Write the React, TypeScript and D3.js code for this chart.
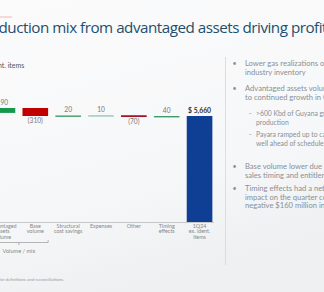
import React from "react";
import * as d3 from "d3";

const categories = [
  ["Advantaged", "assets", "volume"],
  ["Base", "volume"],
  ["Structural", "cost savings"],
  ["Expenses"],
  ["Other"],
  ["Timing", "effects"],
  ["1Q24", "ex. ident.", "items"],
];
const deltas = [190, -310, 20, 10, -70, 40];
const startValue = 5780;
const totalValue = 5660;
const valueLabels = ["190", "(310)", "20", "10", "(70)", "40", "$ 5,660"];
const barColors = ["#17974b", "#c00000", "#3f9c6b", "#9ac8b3", "#a31628", "#3f9c6b", "#0f3f94"];

const bullets = [
  { level: 0, lines: ["Lower gas realizations on high", "industry inventory"] },
  { level: 0, lines: ["Advantaged assets volume up due", "to continued growth in Guyana"] },
  { level: 1, lines: [">600 Kbd of Guyana gross", "production"] },
  { level: 1, lines: ["Payara ramped up to capacity", "well ahead of schedule"] },
  { level: 0, lines: ["Base volume lower due to", "sales timing and entitlements"] },
  { level: 0, lines: ["Timing effects had a net positive", "impact on the quarter compared to", "negative $160 million in 4Q23"] },
];
const bulletRows = [66, 91, 116, 137, 169, 191];

export default function App() {
  const W = 324;
  const H = 292;
  const x = d3
    .scaleBand<number>()
    .domain(d3.range(categories.length))
    .range([-12, 214])
    .paddingInner(0.22)
    .paddingOuter(0.05);
  const y = d3.scaleLinear().domain([1551, 5660]).range([222, 116]);

  const segs: { lo: number; hi: number }[] = [];
  let level = startValue;
  deltas.forEach((d) => {
    const next = level + d;
    segs.push({ lo: Math.min(level, next), hi: Math.max(level, next) });
    level = next;
  });
  segs.push({ lo: y.domain()[0], hi: totalValue });

  const bw = x.bandwidth();
  const xc = (i: number) => (x(i) as number) + bw / 2;
  const bracketL = x(0) as number;
  const bracketR = (x(1) as number) + bw;
  const bracketM = ((x(0) as number) + bw + (x(1) as number)) / 2;

  return (
    <svg
      width={W}
      height={H}
      style={{ position: "absolute", left: 0, top: 0, display: "block" }}
      fontFamily="Lato, 'Open Sans', sans-serif"
    >
      <defs>
        <linearGradient id="bg" x1="0" y1="0" x2="0.3" y2="1">
          <stop offset="0" stopColor="#fbfbfc" />
          <stop offset="0.7" stopColor="#f6f7f8" />
          <stop offset="1" stopColor="#eef0f2" />
        </linearGradient>
      </defs>
      <rect x={0} y={0} width={W} height={H} fill="url(#bg)" />
      <line x1={0} x2={12} y1={17} y2={17} stroke="#f2b9b0" strokeWidth={1} />
      <text x={-24.5} y={33} fontSize={15.2} fill="#1d4f6e" fontFamily="'Open Sans', sans-serif" letterSpacing={-0.48}>
        Production mix from advantaged assets driving profitability
      </text>

      <text x={-22} y={68} fontSize={7} fill="#555">
        ex. ident. items
      </text>

      {segs.map((s, i) => {
        const top = y(s.hi);
        const h = Math.max(y(s.lo) - y(s.hi), 1.4);
        return <rect key={i} x={x(i)} y={top} width={bw} height={h} fill={barColors[i]} />;
      })}

      {segs.map((s, i) => {
        const neg = i < deltas.length && deltas[i] < 0;
        const isTotal = i === segs.length - 1;
        const ty = neg ? y(s.lo) + 6.5 : y(s.hi) - 3;
        return (
          <text
            key={"v" + i}
            x={xc(i)}
            y={ty}
            textAnchor="middle"
            fontSize={isTotal ? 6.8 : 6.6}
            fontWeight={isTotal ? 700 : 400}
            fill={isTotal ? "#333" : "#777"}
          >
            {valueLabels[i]}
          </text>
        );
      })}

      <line x1={0} x2={214} y1={222.5} y2={222.5} stroke="#bbb" strokeWidth={0.8} />

      {categories.map((lines, i) => (
        <text key={"c" + i} x={xc(i)} y={227.5} textAnchor="middle" fontSize={5.4} fill="#888">
          {lines.map((l, j) => (
            <tspan key={j} x={xc(i)} dy={j === 0 ? 0 : 5.6}>
              {l}
            </tspan>
          ))}
        </text>
      ))}

      <path d={`M${bracketL},240 V242.5 H${bracketR} V240`} fill="none" stroke="#999" strokeWidth={0.7} />
      <line x1={bracketM} x2={bracketM} y1={242.5} y2={245} stroke="#999" strokeWidth={0.7} />
      <text x={bracketM} y={253} textAnchor="middle" fontSize={5.6} fill="#888">
        Volume / mix
      </text>

      <text x={-60} y={281} fontSize={4.4} fill="#999">
        See Supplemental information for definitions and reconciliations.
      </text>

      <line x1={225.5} x2={225.5} y1={57} y2={265} stroke="#d5d7da" strokeWidth={0.8} />

      {bullets.map((b, i) => {
        const yy = bulletRows[i];
        const tx = b.level === 0 ? 245 : 256;
        return (
          <g key={"b" + i}>
            <text x={b.level === 0 ? 232.5 : 249} y={yy} fontSize={7} fill="#8a8f96">
              {b.level === 0 ? "•" : "-"}
            </text>
            {b.lines.map((l, j) => (
              <text key={j} x={tx} y={yy + j * 8.6} fontSize={b.level === 0 ? 7.6 : 6.8} fill="#8a8f96">
                {l}
              </text>
            ))}
          </g>
        );
      })}
    </svg>
  );
}
